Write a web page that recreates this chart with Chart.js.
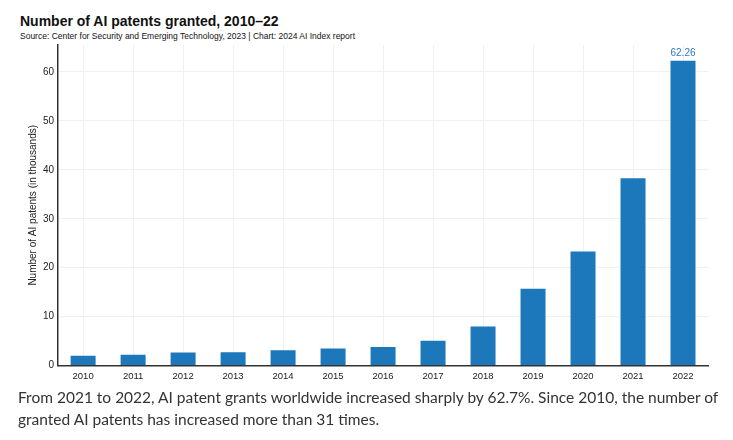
<!DOCTYPE html>
<html>
<head>
<meta charset="utf-8">
<script src="https://cdn.jsdelivr.net/npm/chart.js@4"></script>
<style>
  html, body { margin: 0; padding: 0; background: #fff; }
  body { width: 733px; height: 440px; position: relative; overflow: hidden; }
  #title { position: absolute; left: 20px; top: 13px; font: bold 14px "Liberation Sans", Arial, sans-serif; color: #111; }
  #source { position: absolute; left: 20px; top: 31px; font: 8.5px "Liberation Sans", Arial, sans-serif; color: #111; }
  #wrap { position: absolute; left: 0; top: 35px; width: 733px; height: 352px; }
  #caption { position: absolute; left: 18px; top: 386px; width: 716px; font: 15.5px Lato, "Noto Sans", sans-serif; line-height: 22px; color: #333; }
</style>
</head>
<body>
<div id="title">Number of AI patents granted, 2010–22</div>
<div id="source">Source: Center for Security and Emerging Technology, 2023 | Chart: 2024 AI Index report</div>
<div id="wrap"><canvas id="patentsChart"></canvas></div>
<div id="caption">From 2021 to 2022, AI patent grants worldwide increased sharply by 62.7%. Since 2010, the number of granted AI patents has increased more than 31 times.</div>

<script>
// Chart data (thousands of patents)
const years = ['2010', '2011', '2012', '2013', '2014', '2015', '2016', '2017', '2018', '2019', '2020', '2021', '2022'];
const patents = [2.0, 2.2, 2.7, 2.75, 3.15, 3.5, 3.8, 5.1, 8.0, 15.7, 23.3, 38.27, 62.26];
const labeledIndex = [12];

const barColor = '#1c77bb';

// Draws the value above selected bars
const valueLabels = {
  id: 'valueLabels',
  afterDatasetsDraw(chart) {
    const ctx = chart.ctx;
    const meta = chart.getDatasetMeta(0);
    ctx.save();
    ctx.font = '10px "Liberation Sans", Arial, sans-serif';
    ctx.fillStyle = '#2b7bc4';
    ctx.textAlign = 'center';
    ctx.textBaseline = 'bottom';
    labeledIndex.forEach(i => {
      const bar = meta.data[i];
      ctx.fillText(patents[i].toFixed(2), bar.x, bar.y - 3);
    });
    ctx.restore();
  }
};

document.addEventListener('DOMContentLoaded', function() {
  const ctx = document.getElementById('patentsChart').getContext('2d');
  new Chart(ctx, {
    type: 'bar',
    data: {
      labels: years,
      datasets: [{
        label: 'AI patents granted',
        data: patents,
        backgroundColor: barColor,
        borderWidth: 0,
        barPercentage: 0.5,
        categoryPercentage: 1
      }]
    },
    options: {
      responsive: true,
      maintainAspectRatio: false,
      animation: false,
      layout: { padding: { left: 27, right: 25, top: 5, bottom: 0 } },
      plugins: {
        legend: { display: false },
        tooltip: { enabled: false }
      },
      scales: {
        x: {
          grid: { offset: false, color: '#f0f0f0', drawTicks: false },
          border: { color: '#333', width: 1.5 },
          ticks: { color: '#222', font: { size: 9.5, family: '"Liberation Sans", Arial, sans-serif' }, padding: 5, maxRotation: 0 }
        },
        y: {
          min: 0,
          max: 65.5,
          afterBuildTicks: axis => { axis.ticks = axis.ticks.filter(t => t.value % 10 === 0); },
          grid: { color: '#f0f0f0', drawTicks: false },
          border: { color: '#333', width: 1.5 },
          ticks: { stepSize: 10, color: '#222', font: { size: 10, family: '"Liberation Sans", Arial, sans-serif' }, padding: 4 },
          title: {
            display: true,
            text: 'Number of AI patents (in thousands)',
            color: '#222',
            font: { size: 10, family: '"Liberation Sans", Arial, sans-serif' },
            padding: { top: 0, bottom: 0 }
          }
        }
      }
    },
    plugins: [valueLabels]
  });
});
</script>
</body>
</html>
